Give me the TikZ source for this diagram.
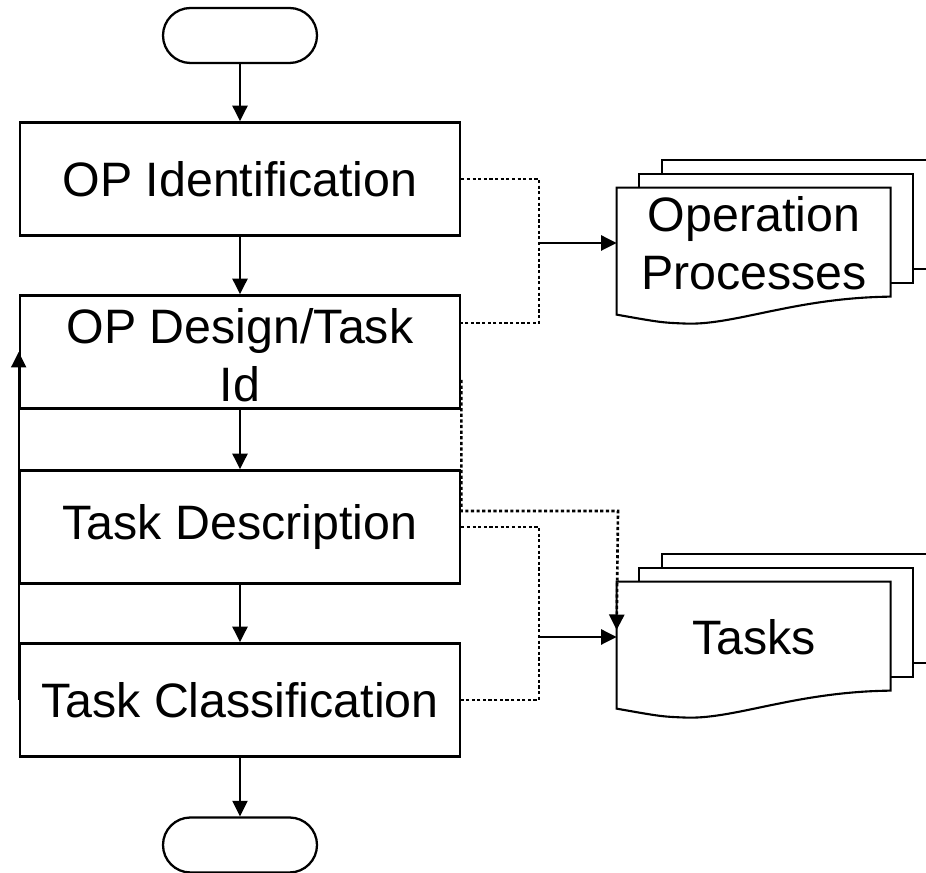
\documentclass[tikz,border=0pt]{standalone}
\usepackage{fontspec}
\setmainfont{Liberation Sans}
\usetikzlibrary{arrows.meta,backgrounds}
\tikzset{
    box/.style ={rectangle, minimum width = 8.8cm, minimum height = 2.26cm, draw, line width = 1.5pt, align = center},
    term/.style ={rectangle, rounded corners = 0.55cm, minimum width = 3.08cm, minimum height = 1.1cm, draw, line width = 1.3pt},
    docpage/.style ={minimum width = 5.48cm, minimum height = 2.2cm, align = center},
    sheet/.style ={line width = 1.2pt, fill = white},
    flow/.style ={line width = 1.3pt, -{Triangle[length=3.1mm,width=3mm]}},
    dotline/.style ={line width = 1.5pt, dash pattern = on 1.8pt off 1.4pt}}

\begin{document}
\begin{tikzpicture}[every node/.style={font=\fontsize{27.5}{33}\selectfont}]
        \useasboundingbox (0,0) rectangle (18.52,17.46);
        \node[term] (start) at (4.8,16.75) {};
        \node[box] (ident) at (4.8,13.88) {OP Identification};
        \node[box] (design) at (4.8,10.42) {};
        \node[align=center] (designtxt) at ([yshift=-0.7mm]design.center) {OP Design/Task\\Id};
        \node[box] (descr) at (4.8,6.92) {Task Description};
        \node[box] (classif) at (4.8,3.46) {Task Classification};
        \node[term] (stop) at (4.8,0.56) {};
        \node[docpage] (opdoc) at (15.08,12.6) {Operation\\Processes};
        \node[docpage] (taskdoc) at (15.08,4.72) {Tasks};
        \coordinate (jA) at (10.78,12.6);
        \coordinate (jB) at (10.78,4.72);
        \coordinate (jC) at (12.36,7.24);
        % stacked documents
        \foreach \n in {opdoc,taskdoc}{
            \begin{scope}[on background layer, shift={(\n.north west)}]
                \draw[sheet] (0.9,0.56) rectangle ++(5.48,-2.18);
                \draw[sheet] (0.45,0.28) rectangle ++(5.48,-2.18);
                \draw[sheet] (0,0) -- (5.48,0) -- (5.48,-2.18)
                    .. controls (3.6,-2.2) and (2.4,-2.74) .. (1.42,-2.72)
                    .. controls (0.9,-2.7) .. (0,-2.54) -- cycle;
            \end{scope}}
        % main flow
        \draw[flow] (start) -- (ident);
        \draw[flow] (ident) -- (design);
        \draw[flow] (design) -- (descr);
        \draw[flow] (descr) -- (classif);
        \draw[flow] (classif) -- (stop);
        \draw[flow] (classif.west) -- (design.west);
        % outputs
        \draw[dotline] (ident.east) -| (jA) |- ([yshift=5.8mm]design.east);
        \draw[dotline] (descr.east) -| (jB) |- (classif.east);
        \draw[dotline,-{Triangle[length=3.1mm,width=3mm]}] ([yshift=-5.6mm]design.east) |- (jC) -- ([yshift=1.4mm]taskdoc.west);
        \draw[flow] (jA) -- (opdoc.west);
        \draw[flow] (jB) -- (taskdoc.west);
    \end{tikzpicture}
\end{document}
